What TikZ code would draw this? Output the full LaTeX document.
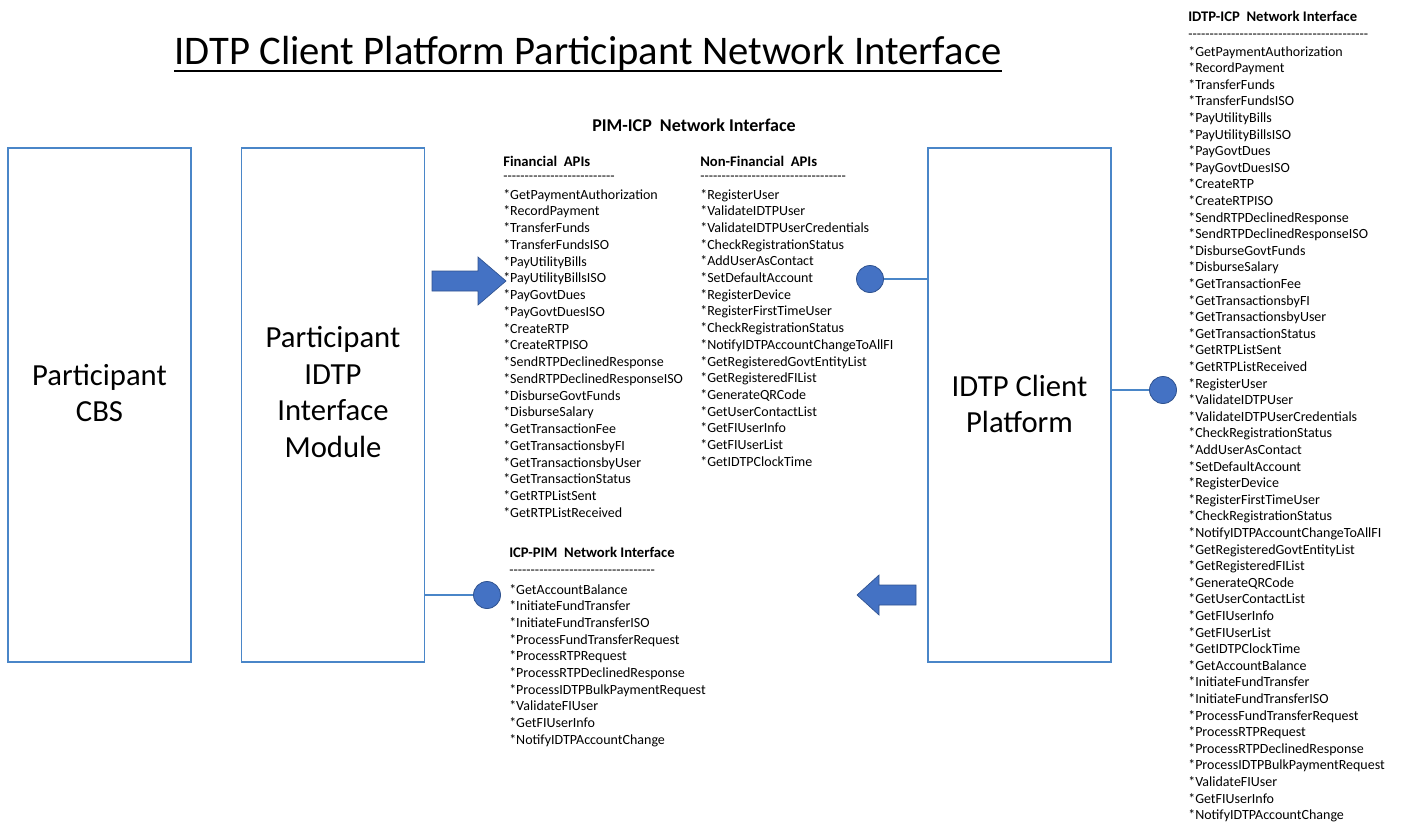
\documentclass[tikz,border=0pt]{standalone}
\usepackage{fontspec}
\setmainfont{Carlito}
\usetikzlibrary{positioning}
\definecolor{boxblue}{RGB}{74,134,200}
\definecolor{dotblue}{RGB}{68,114,196}
\definecolor{dotedge}{RGB}{47,82,143}

\newcommand{\dashrow}[1]{\foreach \k in {1,...,#1}{-}}
\newcommand{\finapis}{GetPaymentAuthorization,RecordPayment,TransferFunds,TransferFundsISO,PayUtilityBills,PayUtilityBillsISO,PayGovtDues,PayGovtDuesISO,CreateRTP,CreateRTPISO,SendRTPDeclinedResponse,SendRTPDeclinedResponseISO,DisburseGovtFunds,DisburseSalary,GetTransactionFee,GetTransactionsbyFI,GetTransactionsbyUser,GetTransactionStatus,GetRTPListSent,GetRTPListReceived}
\newcommand{\nonfinapis}{RegisterUser,ValidateIDTPUser,ValidateIDTPUserCredentials,CheckRegistrationStatus,AddUserAsContact,SetDefaultAccount,RegisterDevice,RegisterFirstTimeUser,CheckRegistrationStatus,NotifyIDTPAccountChangeToAllFI,GetRegisteredGovtEntityList,GetRegisteredFIList,GenerateQRCode,GetUserContactList,GetFIUserInfo,GetFIUserList,GetIDTPClockTime}
\newcommand{\pimapis}{GetAccountBalance,InitiateFundTransfer,InitiateFundTransferISO,ProcessFundTransferRequest,ProcessRTPRequest,ProcessRTPDeclinedResponse,ProcessIDTPBulkPaymentRequest,ValidateFIUser,GetFIUserInfo,NotifyIDTPAccountChange}
\edef\allapis{\finapis,\nonfinapis,\pimapis}

\begin{document}
\begin{tikzpicture}[x=0.75pt,y=-0.75pt,
  block/.style={draw=boxblue,line width=1pt,minimum width=183*0.75pt,minimum height=514*0.75pt},
  blocktext/.style={align=center,inner sep=0pt,font=\fontsize{23}{27.5}\selectfont},
  dot/.style={circle,fill=dotblue,draw=dotedge,line width=0.6pt,minimum size=27*0.75pt,inner sep=0pt},
  link/.style={draw=boxblue,line width=0.9pt},
  api/.style={anchor=base west,inner sep=0pt,font=\fontsize{10.5}{12}\selectfont},
  head/.style={anchor=base west,inner sep=0pt,font=\fontsize{11}{13}\selectfont\bfseries},
  bigarrow/.style={fill=dotblue,draw=dotedge,line width=0.5pt}]
\useasboundingbox (0,0) rectangle (1401,826);

% title
\node[anchor=base,inner sep=0pt,font=\fontsize{30.5}{36}\selectfont] (title) at (588,64) {IDTP Client Platform Participant Network Interface};
\draw[line width=1.5pt] ([yshift=-5pt]title.base west) -- ([yshift=-5pt]title.base east);

% the three blocks
\node[block] (cbs) at (99.5,405) {};
\node[block] (pim) at (333,405) {};
\node[block] (icp) at (1019.5,405) {};
\node[blocktext] (cbs-text) at (99.5,393) {Participant\\CBS};
\node[blocktext] (pim-text) at (333,392) {Participant\\IDTP\\Interface\\Module};
\node[blocktext] (icp-text) at (1019.5,404) {IDTP Client\\Platform};

% interface dots
\node[dot] (dotin) at (870,279) {};
\node[dot] (dotout) at (1163,390) {};
\node[dot] (dotpim) at (487,595) {};
\draw[link] (dotin) -- (dotin -| icp.west);
\draw[link] (icp.east |- dotout) -- (dotout);
\draw[link] (pim.east |- dotpim) -- (dotpim);

% block arrows
\filldraw[bigarrow] (432,271) -- (478,271) -- (478,257) -- (506,281) -- (478,305) -- (478,291) -- (432,291) -- cycle;
\filldraw[bigarrow] (916,585) -- (879,585) -- (879,575) -- (857,595) -- (879,615) -- (879,605) -- (916,605) -- cycle;

% PIM-ICP lists
\node[head,anchor=base,font=\fontsize{13.5}{16}\selectfont\bfseries] (pimicp) at (694,131) {PIM-ICP~ Network Interface};
\node[head] (fin-head) at (503,166) {Financial~ APIs};
\node[api] (fin-rule) at (503,180) {\dashrow{26}};
\foreach \api [count=\i] in \finapis
  \node[api] (fin\i) at (503,{199+(\i-1)*16.75}) {*\api};
\node[head] (nonfin-head) at (700,166) {Non-Financial~ APIs};
\node[api] (nonfin-rule) at (700,180) {\dashrow{34}};
\foreach \api [count=\i] in \nonfinapis
  \node[api] (nonfin\i) at (700,{199+(\i-1)*16.7}) {*\api};

% ICP-PIM list
\node[head] (icppim-head) at (509,557) {ICP-PIM~ Network Interface};
\node[api] (icppim-rule) at (509,574) {\dashrow{34}};
\foreach \api [count=\i] in \pimapis
  \node[api] (icppim\i) at (509,{594+(\i-1)*16.7}) {*\api};

% IDTP-ICP list
\node[head] (idtp-head) at (1188,21) {IDTP-ICP~ Network Interface};
\node[api] (idtp-rule) at (1188,38) {\dashrow{42}};
\foreach \api [count=\i] in \allapis
  \node[api] (idtp\i) at (1188,{56+(\i-1)*16.6}) {*\api};
\end{tikzpicture}
\end{document}
